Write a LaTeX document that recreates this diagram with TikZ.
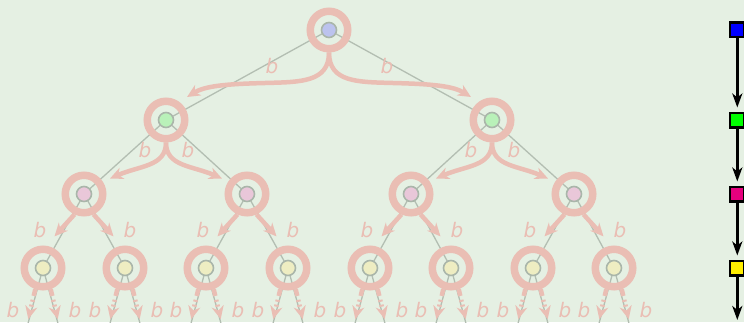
\documentclass[tikz,border=0pt]{standalone}
\usepackage{fontspec}
\newfontfamily\labelfont{DejaVu Sans}
\usetikzlibrary{arrows.meta}
\definecolor{bg}{HTML}{E5F0E3}
\definecolor{rose}{HTML}{EABEB4}
\definecolor{edgegray}{HTML}{B3BEB2}
\definecolor{rimgray}{HTML}{AAB6AA}
\definecolor{fillA}{HTML}{BCC3EE}
\definecolor{fillB}{HTML}{B9F1B9}
\definecolor{fillC}{HTML}{E9C7D9}
\definecolor{fillD}{HTML}{EEEDC2}
\definecolor{keyA}{HTML}{0000FF}
\definecolor{keyB}{HTML}{00FF00}
\definecolor{keyC}{HTML}{E6007E}
\definecolor{keyD}{HTML}{FFEE00}
\tikzset{
  edge/.style={draw=edgegray, line width=1.3pt},
  ring/.style={circle, draw=rose, line width=7.5pt, minimum size=37.5pt, inner sep=0pt},
  inner/.style={circle, draw=rimgray, line width=1.6pt, minimum size=15pt, inner sep=0pt},
  parrow/.style={draw=rose, line width=4.5pt,
    -{Stealth[length=13pt, width=12pt, inset=4pt]}},
  tailarrow/.style={parrow, dash pattern=on 7pt off 4pt on 2pt off 3pt on 2pt off 40pt},
  lbl/.style={text=rose, inner sep=0pt, font=\labelfont\itshape\fontsize{20}{20}\selectfont},
  keybox/.style={rectangle, draw=black, line width=2.5pt, minimum size=14.5pt, inner sep=0pt},
  keyarrow/.style={draw=black, line width=2.5pt, shorten >=4pt,
    -{Stealth[length=14pt, width=10pt, inset=4pt]}}
}
\begin{document}
\begin{tikzpicture}[x=1pt, y=-1pt]
  \useasboundingbox (0,0) rectangle (744,322);
  \fill[bg] (0,0) rectangle (744,322);
  \clip (0,0) rectangle (744,322);

  % tree positions
  \coordinate (a) at (329,30);
  \coordinate (b1) at (166,120);
  \coordinate (b2) at (492,120);
  \foreach \x [count=\i] in {84,247,411,574}
    \coordinate (c\i) at (\x,194);
  \foreach \x [count=\i] in {43,125,206,288,370,451,533,614} {
    \coordinate (d\i) at (\x,268);
    \coordinate (d\i l) at (\x-20,342);
    \coordinate (d\i r) at (\x+20,342);
  }

  % gray tree edges
  \foreach \p/\c in {a/b1,a/b2,b1/c1,b1/c2,b2/c3,b2/c4,
                     c1/d1,c1/d2,c2/d3,c2/d4,c3/d5,c3/d6,c4/d7,c4/d8}
    \draw[edge] (\p) -- (\c);
  \foreach \i in {1,...,8} {
    \draw[edge] (d\i) -- (d\i l);
    \draw[edge] (d\i) -- (d\i r);
  }

  % rose rings and state discs
  \foreach \n in {a,b1,b2,c1,c2,c3,c4,d1,d2,d3,d4,d5,d6,d7,d8}
    \node[ring] (\n-ring) at (\n) {};
  \node[inner, fill=fillA] (a-in) at (a) {};
  \foreach \n in {b1,b2} \node[inner, fill=fillB] (\n-in) at (\n) {};
  \foreach \n in {c1,c2,c3,c4} \node[inner, fill=fillC] (\n-in) at (\n) {};
  \foreach \n in {d1,d2,d3,d4,d5,d6,d7,d8} \node[inner, fill=fillD] (\n-in) at (\n) {};

  % level 0 branching arrows
  \draw[parrow] (a-ring.south) .. controls +(0,30) and +(35,-1) .. (265,83)
                .. controls +(-40,1) and +(18,-11) .. (187,97);
  \draw[parrow] (a-ring.south) .. controls +(0,30) and +(-35,-1) .. (393,83)
                .. controls +(40,1) and +(-18,-11) .. (471,97);
  \node[lbl] (la1) at (272,66) {b};
  \node[lbl] (la2) at (387,66) {b};

  % level 1 branching arrows
  \foreach \n in {b1,b2} {
    \draw[parrow] (\n-ring.south) .. controls +(0,24) and +(30,-13) .. +(-56,36);
    \draw[parrow] (\n-ring.south) .. controls +(0,24) and +(-30,-13) .. +(56,36);
  }
  \node[lbl] (lb1) at (145,150) {b};
  \node[lbl] (lb2) at (188,150) {b};
  \node[lbl] (lb3) at (471,150) {b};
  \node[lbl] (lb4) at (514,150) {b};

  % level 2 branching arrows
  \foreach \n/\x in {c1/84,c2/247,c3/411,c4/574} {
    \draw[parrow] (\n-ring.-115) -- +(-20,22);
    \draw[parrow] (\n-ring.-65) -- +(20,22);
    \node[lbl] (\n-ll) at (\x-44,230) {b};
    \node[lbl] (\n-lr) at (\x+46,230) {b};
  }

  % level 3 arrows running off the bottom
  \foreach \n/\x in {d1/43,d2/125,d3/206,d4/288,d5/370,d6/451,d7/533,d8/614} {
    \draw[tailarrow] (\n-ring.-110) -- +(-7,30);
    \draw[tailarrow] (\n-ring.-70) -- +(7,30);
    \node[lbl] (\n-ll) at (\x-30,310) {b};
    \node[lbl] (\n-lr) at (\x+32,310) {b};
  }

  % colour key column
  \node[keybox, fill=keyA] (k1) at (737.3,29.5) {};
  \node[keybox, fill=keyB] (k2) at (737.3,120) {};
  \node[keybox, fill=keyC] (k3) at (737.3,194) {};
  \node[keybox, fill=keyD] (k4) at (737.3,268) {};
  \coordinate (kend) at (737.3,324);
  \draw[keyarrow] (k1) -- (k2);
  \draw[keyarrow] (k2) -- (k3);
  \draw[keyarrow] (k3) -- (k4);
  \draw[keyarrow] (k4) -- (kend);
\end{tikzpicture}
\end{document}
